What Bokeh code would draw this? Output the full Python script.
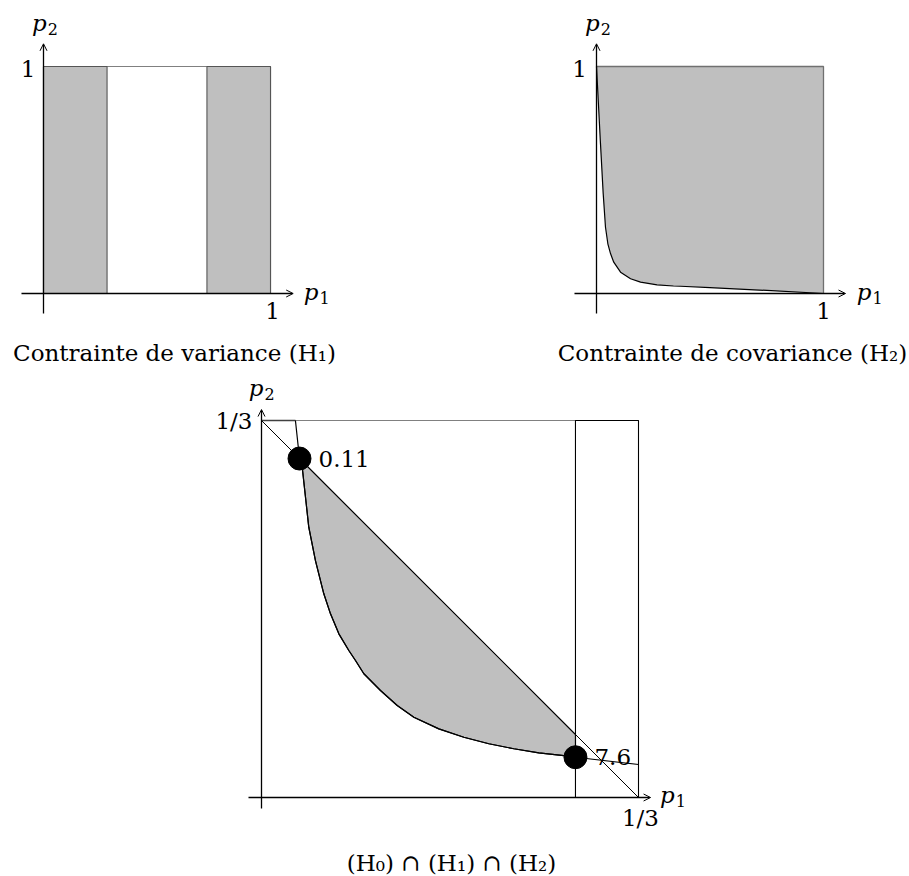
from bokeh.plotting import figure
from bokeh.layouts import column, row
from bokeh.models import Range1d, Arrow, OpenHead
from bokeh.core.properties import value
from bokeh.embed import file_html
from bokeh.resources import INLINE

# ---------------- data ----------------
# Plot 1: variance constraint (H1) -- admissible strips on p1
var_left_strip = [0.0, 0.28]
var_right_strip = [0.72, 1.0]
unit_box = [0.0, 1.0]

# Plot 2: covariance constraint (H2) boundary curve
cov_curve_x = [0.0, 0.0176, 0.0295, 0.0396, 0.050, 0.0617, 0.076, 0.106, 0.150, 0.194,
               0.267, 0.339, 0.37, 0.50, 0.75, 1.0]
cov_curve_y = [1.0, 0.659, 0.44, 0.292, 0.219, 0.176, 0.138, 0.094, 0.065, 0.050,
               0.038, 0.033, 0.032, 0.026, 0.0135, 0.0]

# Plot 3: intersection, zoom on [0, 1/3]
third = 1.0 / 3.0
inter_curve_x = [0.030, 0.0336, 0.0360, 0.0389, 0.0418, 0.0477, 0.0551, 0.0610, 0.0684,
                 0.0772, 0.0831, 0.0905, 0.1052, 0.1200, 0.1347, 0.1568, 0.1789, 0.2010,
                 0.2231, 0.2452, 0.2673, 0.2776, 0.3333]
inter_curve_y = [0.3333, 0.2997, 0.2920, 0.2655, 0.2390, 0.2095, 0.1801, 0.1624, 0.1447,
                 0.1300, 0.1211, 0.1094, 0.0946, 0.0813, 0.0710, 0.0607, 0.0533, 0.0475,
                 0.0431, 0.0395, 0.0371, 0.0356, 0.0292]
var_bound = 0.2776
dot_x = [0.0336, 0.2776]
dot_y = [0.2997, 0.0356]
dot_labels = ["0.11", "7.6"]

tick_one = "1"
tick_third = "1/3"
captions = ["Contrainte de variance (H\u2081)", "Contrainte de covariance (H\u2082)",
            "(H\u2080) \u2229 (H\u2081) \u2229 (H\u2082)"]

FONT = value("DejaVu Serif")
FS = "23px"
GRAY = "#bfbfbf"
EDGE = "#808080"


def make_fig(w, h, xr, yr):
    p = figure(width=w, height=h, x_range=Range1d(*xr), y_range=Range1d(*yr),
               x_axis_location=None, y_axis_location=None, toolbar_location=None,
               output_backend="svg", min_border=0, outline_line_color=None)
    for g in p.grid:
        g.visible = False
    p.background_fill_color = "white"
    p.border_fill_color = "white"
    return p


def axes(p, x0, x1, y0, y1):
    p.add_layout(Arrow(end=OpenHead(size=7, line_width=1, line_color="black"),
                       x_start=x0, y_start=0, x_end=x1, y_end=0,
                       line_width=1.3, line_color="black"))
    p.add_layout(Arrow(end=OpenHead(size=7, line_width=1, line_color="black"),
                       x_start=0, y_start=y0, x_end=0, y_end=y1,
                       line_width=1.3, line_color="black"))


def lbl(p, x, y, t, align="center", italic=False, size=FS):
    p.text(x=[x], y=[y], text=[t], text_font=FONT, text_font_size=size,
           text_align=align, text_baseline="middle", text_color="black",
           text_font_style="italic" if italic else "normal")


def var_lbl(p, x, y, sub, left=False):
    # italic p with a real subscript digit; (x, y) is centre (or left edge)
    dx = 14 if left else 2
    p.text(x=[x], y=[y], text=["p"], text_font=FONT, text_font_size=FS, x_offset=dx,
           text_align="right", text_baseline="middle", text_font_style="italic",
           text_color="black")
    p.text(x=[x], y=[y], text=[sub], text_font=FONT, text_font_size="16px", x_offset=dx + 1,
           y_offset=6, text_align="left", text_baseline="middle", text_color="black")


# ---------------- plot 1 ----------------
S = 227.0
TOP_H = 374
p1 = make_fig(438, TOP_H, ((0 - 43) / S, (438 - 43) / S), ((293 - TOP_H) / S, 293 / S))
p1.quad(left=[unit_box[0]], right=[unit_box[1]], bottom=[unit_box[0]], top=[unit_box[1]],
        fill_color=None, line_color=EDGE, line_width=1.2)
p1.quad(left=[var_left_strip[0], var_right_strip[0]], right=[var_left_strip[1], var_right_strip[1]],
        bottom=[0, 0], top=[1, 1], fill_color=GRAY, line_color="#555555", line_width=1.1)
axes(p1, -0.097, 1.10, -0.088, 1.10)
var_lbl(p1, 0.005, 1.19, "2")
lbl(p1, -0.068, 0.99, tick_one)
lbl(p1, 1.009, -0.079, tick_one)
var_lbl(p1, 1.15, 0.006, "1", left=True)
lbl(p1, 0.577, -0.26, captions[0])

# ---------------- plot 2 ----------------
p2 = make_fig(471, TOP_H, ((438 - 596) / S, (909 - 596) / S), ((293 - TOP_H) / S, 293 / S))
poly_x = cov_curve_x + [1.0, 0.0]
poly_y = cov_curve_y + [1.0, 1.0]
p2.patch(poly_x, poly_y, fill_color=GRAY, line_color=None)
p2.line([0, 1, 1], [1, 1, 0], line_color="#707070", line_width=1.3)
p2.line(cov_curve_x, cov_curve_y, line_color="black", line_width=1.2)
axes(p2, -0.097, 1.097, -0.088, 1.10)
var_lbl(p2, 0.005, 1.19, "2")
lbl(p2, -0.075, 0.99, tick_one)
lbl(p2, 1.0, -0.079, tick_one)
var_lbl(p2, 1.15, 0.006, "1", left=True)
lbl(p2, 0.599, -0.26, captions[1])

# ---------------- plot 3 ----------------
T = 1131.0
p3 = make_fig(909, 876 - TOP_H, ((0 - 261) / T, (909 - 261) / T), ((797 - 876) / T, (797 - TOP_H) / T))
# outer box
p3.quad(left=[0], right=[third], bottom=[0], top=[third], fill_color=None,
        line_color=EDGE, line_width=1.0)
# variance boundary box
p3.line([var_bound, var_bound, third, third], [0, third, third, 0], line_color="black", line_width=1.1)
p3.line([0, inter_curve_x[0]], [third, third], line_color="#404040", line_width=1.3)
# shaded region between diagonal, variance bound and covariance curve
i1 = inter_curve_x.index(dot_x[0])
i2 = inter_curve_x.index(var_bound)
sx = [dot_x[0], var_bound] + inter_curve_x[i1:i2 + 1][::-1]
sy = [dot_y[0], third - var_bound] + inter_curve_y[i1:i2 + 1][::-1]
p3.patch(sx, sy, fill_color=GRAY, line_color="black", line_width=1.2)
# diagonal p1 + p2 = 1/3
p3.line([0, third], [third, 0], line_color="black", line_width=1.0)
p3.line(inter_curve_x, inter_curve_y, line_color="black", line_width=1.2)
p3.scatter(dot_x, dot_y, size=23, fill_color="black", line_color="black")
p3.text(x=dot_x, y=dot_y, text=dot_labels, x_offset=19, text_font=FONT, text_font_size=FS,
        text_align="left", text_baseline="middle", text_color="black")
axes(p3, -0.0115, 0.344, -0.0097, 0.343)
var_lbl(p3, 0.0, 0.3625, "2")
lbl(p3, -0.008, third, tick_third, align="right")
lbl(p3, 0.335, -0.0185, tick_third)
var_lbl(p3, 0.353, 0.002, "1", left=True)
lbl(p3, 0.168, -0.0575, captions[2])

layout = column(row(p1, p2, spacing=0), p3, spacing=0)
open("out.html", "w").write(file_html(layout, INLINE))
